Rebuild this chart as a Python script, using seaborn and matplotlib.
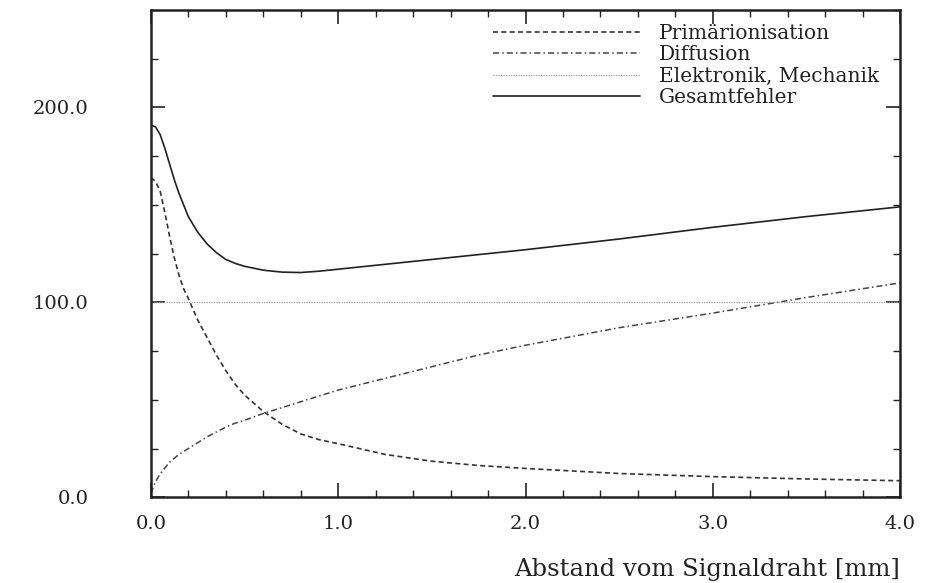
import matplotlib
matplotlib.use("Agg")
import matplotlib.pyplot as plt
from matplotlib.ticker import MultipleLocator, FixedLocator, FormatStrFormatter
import seaborn as sns
import pandas as pd

# Abstand vom Signaldraht in mm
abstand = [0.0, 0.025, 0.05, 0.075, 0.1, 0.125, 0.15, 0.175, 0.2, 0.25, 0.3, 0.35,
           0.4, 0.45, 0.5, 0.6, 0.7, 0.8, 0.9, 1.0, 1.25, 1.5, 1.75, 2.0, 2.5,
           3.0, 3.5, 4.0]

# Beitraege zur Ortsaufloesung
primaerionisation = [164, 162, 157, 146, 134, 123, 114, 107, 102, 91, 82, 73,
                     65, 58, 52.5, 44, 37.5, 32.5, 29.5, 27.5, 22, 18.5, 16.3, 14.8, 12.2,
                     10.6, 9.4, 8.5]
diffusion = [2, 8, 12, 15, 18, 20, 22, 23.5, 25, 28, 31, 33.5,
             36, 38, 39.5, 43, 46, 49, 52, 55, 61, 67, 73, 78, 87,
             94.5, 102.5, 110]
elektronik = [100] * len(abstand)
gesamtfehler = [191, 190, 186, 179, 171, 163, 156, 150, 144, 136, 130, 125.5,
                122, 120, 118.5, 116.5, 115.5, 115.3, 116, 117, 119.5, 122, 124.5, 127, 132.5,
                138.5, 144, 149]

labels = ["Primärionisation", "Diffusion", "Elektronik, Mechanik", "Gesamtfehler"]
series = [primaerionisation, diffusion, elektronik, gesamtfehler]

rows = []
for name, vals in zip(labels, series):
    for x, y in zip(abstand, vals):
        rows.append({"Abstand": x, "Wert": y, "Beitrag": name})
df = pd.DataFrame(rows)

sns.set_theme(style="ticks")
plt.rcParams["font.family"] = ["DejaVu Serif"]
plt.rcParams["lines.solid_joinstyle"] = "round"
plt.rcParams["lines.dash_joinstyle"] = "round"

fig = plt.figure(figsize=(9.31, 5.83), dpi=100)
ax = fig.add_axes([0.162, 0.147, 0.805, 0.836])

styles = {
    "Primärionisation": dict(color="#333333", lw=1.2, dashes=(3, 2)),
    "Diffusion": dict(color="#444444", lw=1.1, dashes=(4, 2, 1, 2)),
    "Elektronik, Mechanik": dict(color="#9a9a9a", lw=0.9, dashes=(1, 1)),
    "Gesamtfehler": dict(color="#222222", lw=1.2, dashes=None),
}

for name in labels:
    st = styles[name]
    sub = df[df["Beitrag"] == name]
    sns.lineplot(data=sub, x="Abstand", y="Wert", ax=ax, label=name,
                 color=st["color"], linewidth=st["lw"])
    ln = ax.lines[-1]
    if st["dashes"] is not None:
        ln.set_dashes(st["dashes"])

ax.set_xlim(0, 4.0)
ax.set_ylim(0, 250)

ax.xaxis.set_major_locator(MultipleLocator(1.0))
ax.xaxis.set_minor_locator(MultipleLocator(0.2))
ax.yaxis.set_major_locator(FixedLocator([0, 100, 200]))
ax.yaxis.set_minor_locator(MultipleLocator(25))
ax.xaxis.set_major_formatter(FormatStrFormatter("%.1f"))
ax.yaxis.set_major_formatter(FormatStrFormatter("%.1f"))

ax.tick_params(axis="both", which="both", direction="in", top=True, right=True,
               colors="#222222")
ax.tick_params(axis="both", which="major", length=10, width=1.2, labelsize=14)
ax.tick_params(axis="both", which="minor", length=5, width=1.0)
ax.tick_params(axis="x", which="major", pad=13)
ax.tick_params(axis="y", which="major", pad=45)

for sp in ax.spines.values():
    sp.set_visible(True)
    sp.set_linewidth(1.8)
    sp.set_color("#222222")

ax.set_ylabel("")
ax.set_xlabel("Abstand vom Signaldraht [mm]", fontsize=17.5, color="#222222")
ax.xaxis.set_label_coords(1.0, -0.125)
ax.xaxis.label.set_horizontalalignment("right")

leg = ax.legend(loc="upper right", frameon=False, fontsize=14.5, handlelength=7.3,
                handletextpad=0.9, labelspacing=0.12, borderaxespad=0.3,
                bbox_to_anchor=(0.99, 1.0))
for t in leg.get_texts():
    t.set_color("#222222")

fig.savefig("out.png", dpi=100)
